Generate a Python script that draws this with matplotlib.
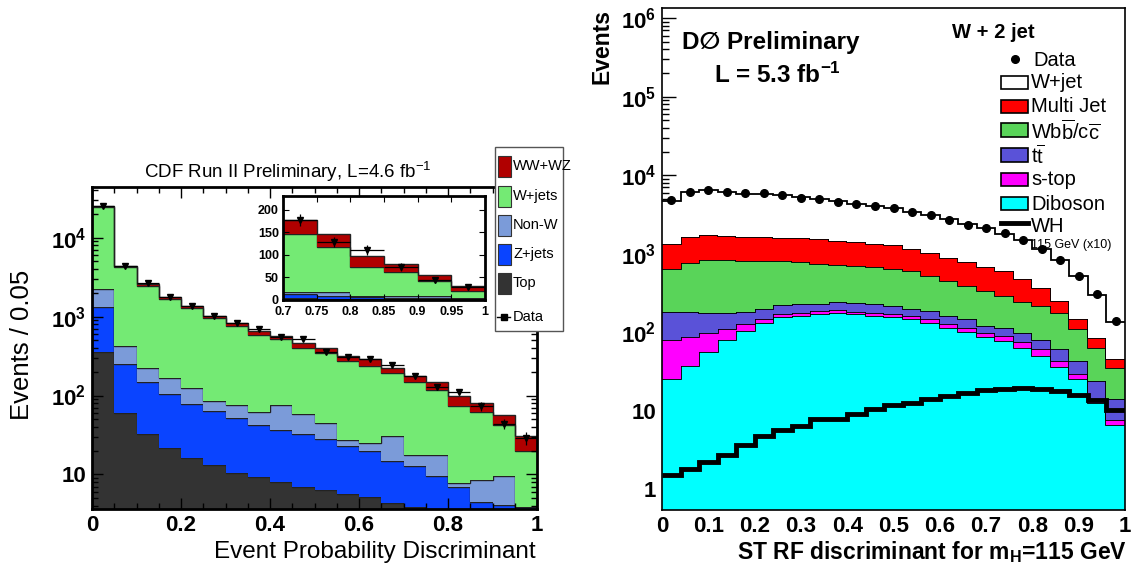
import numpy as np
import matplotlib
matplotlib.use("Agg")
import matplotlib.pyplot as plt
from matplotlib.patches import Rectangle
from matplotlib.lines import Line2D
from matplotlib.ticker import FixedLocator, LogLocator, NullFormatter, MultipleLocator

plt.rcParams['font.family'] = ['Liberation Sans', 'DejaVu Sans']
plt.rcParams['mathtext.fontset'] = 'custom'
plt.rcParams['mathtext.rm'] = 'Liberation Sans'
plt.rcParams['mathtext.it'] = 'Liberation Sans:italic'
plt.rcParams['mathtext.bf'] = 'Liberation Sans:bold'

W, H = 1131, 569

# ---------------- CDF (left panel), 20 bins of 0.05 ----------------
cdf_edges = np.linspace(0, 1, 21)
cdf_top = [361, 59.7, 32.4, 21.5, 16.1, 13.3, 10.4, 9.25, 8.0, 7.0,
           6.4, 5.6, 5.1, 4.3, 3.9, 3.3, 3.0, 2.7, 2.4, 2.0]
cdf_zjets = [979, 190, 116, 82.5, 61.5, 50.7, 41.2, 33.4, 28.7, 25.7,
             21.9, 17.0, 14.4, 10.3, 8.7, 6.1, 4.0, 1.8, 1.7, 1.9]
cdf_nonw = [900, 180, 78, 65, 46.4, 20, 23.1, 18.9, 38, 25.9,
            16.4, 4.3, 5.4, 15.7, 5.0, 8.2, 0.8, 3.9, 5.5, 0]
cdf_wjets = [22460, 3870, 2244, 1501, 1176, 869, 695, 524, 442, 346,
             299, 248, 215, 162, 129, 100, 66, 54, 33, 16]
cdf_wwwz = [500, 80, 120, 120, 77, 77, 70, 79, 58, 64,
            53, 46, 48, 30, 32, 29, 24, 18, 14, 11]
cdf_data = [25400, 4380, 2640, 1770, 1370, 1030, 820, 690, 555, 517,
            360, 307, 292, 244, 177, 128, 111, 73, 44, 29]
cdf_names = ['Top', 'Z+jets', 'Non-W', 'W+jets', 'WW+WZ']
cdf_colors = ['#333333', '#0a44ff', '#7b9bd9', '#74ea74', '#b00000']

# ---------------- D0 (right panel), 25 bins of 0.04 ----------------
d0_edges = np.linspace(0, 1, 26)
d0_diboson = [25, 37, 55, 79, 104, 130, 155, 160, 168, 176, 168, 160, 157,
              145, 131, 113, 100, 87, 77, 63, 49, 36, 25, 12.5, 6.6]
d0_stop = [55, 50, 43, 32, 24, 18, 16, 13, 17, 15, 14, 13, 13,
           15, 14, 15, 13, 11, 12, 11, 11, 7, 4, 1.3, 1.05]
d0_ttbar = [100, 93, 78, 65, 54, 50, 50, 53, 45, 51, 50, 53, 44,
            35, 40, 34, 32, 23, 24, 24, 20, 18.5, 13.7, 9.8, 6.2]
d0_wbb = [464, 587, 654, 649, 628, 607, 574, 550, 513, 474, 458, 440, 429,
          402, 335, 287, 240, 212, 175, 143, 134, 112, 65.5, 39.4, 21.2]
d0_multijet = [671, 883, 900, 855, 820, 805, 805, 785, 775, 745, 710, 675, 637,
               560, 490, 440, 397, 349, 312, 239, 154, 75, 37, 22, 10]
d0_wjet = [3435, 4400, 4670, 4420, 4190, 4190, 3940, 3640, 3430, 3160, 2900, 2710,
           2500, 2260, 2070, 1840, 1568, 1418, 1200, 1010, 772, 572, 370, 215, 91]
d0_data = [4800, 6120, 6440, 6120, 5840, 5840, 5560, 5190, 4940, 4610, 4310, 4060,
           3790, 3440, 3085, 2715, 2345, 2105, 1815, 1480, 1135, 828, 518, 302, 138]
d0_wh = [1.52, 1.80, 2.24, 2.73, 3.67, 4.69, 5.6, 6.3, 7.8, 7.8, 9.1, 10.6, 11.7,
         12.5, 14.1, 15.5, 16.7, 18.1, 18.9, 19.5, 18.9, 17.6, 16.0, 13.8, 10.3]
d0_names = ['Diboson', 's-top', r't$\overline{\rm t}$', r'Wb$\overline{\rm b}$/c$\overline{\rm c}$',
            'Multi Jet', 'W+jet']
d0_colors = ['#00ffff', '#ff00ff', '#5a52d8', '#59d459', '#ff0000', '#ffffff']


def fx(x):
    return x / W


def fy(y):
    return 1 - y / H


def draw_stack(ax, edges, comps, colors, lw, ec, base=1e-2):
    bottom = np.full(len(edges) - 1, base)
    for vals, col in zip(comps, colors):
        upper = bottom + np.asarray(vals, dtype=float)
        ax.stairs(upper, edges, baseline=bottom, fill=True, color=col, lw=0)
        ax.stairs(upper, edges, baseline=None, color=ec, lw=lw)
        bottom = upper
    return bottom


fig = plt.figure(figsize=(W / 100, H / 100), dpi=100)

# ================= left: CDF =================
ax1 = fig.add_axes([fx(92), fy(509), 445 / W, 322 / H])
cdf_comps = [cdf_top, cdf_zjets, cdf_nonw, cdf_wjets, cdf_wwwz]
draw_stack(ax1, cdf_edges, cdf_comps, cdf_colors, 1.0, '#222222')
cdf_cent = 0.5 * (cdf_edges[1:] + cdf_edges[:-1])
ax1.errorbar(cdf_cent, cdf_data, xerr=0.025, yerr=np.sqrt(cdf_data), fmt='v',
             color='black', ms=4, elinewidth=0.9, capsize=0)
ax1.set_yscale('log')
ax1.set_xlim(0, 1)
ax1.set_ylim(3.64, 4.4e4)
ax1.xaxis.set_major_locator(FixedLocator([0, 0.2, 0.4, 0.6, 0.8, 1.0]))
ax1.xaxis.set_minor_locator(MultipleLocator(0.05))
ax1.set_xticklabels(['0', '0.2', '0.4', '0.6', '0.8', '1'], fontsize=16, fontweight='bold')
ax1.yaxis.set_major_locator(FixedLocator([10, 100, 1000, 10000]))
ax1.yaxis.set_minor_locator(LogLocator(subs=np.arange(2, 10)))
ax1.yaxis.set_minor_formatter(NullFormatter())
ax1.set_yticklabels(['10', r'$\mathbf{10^{2}}$', r'$\mathbf{10^{3}}$', r'$\mathbf{10^{4}}$'],
                    fontsize=16, fontweight='bold')
ax1.tick_params(which='both', direction='in', top=True, right=True, width=1)
ax1.tick_params(which='major', length=8, pad=4)
ax1.tick_params(which='minor', length=4)
for s in ax1.spines.values():
    s.set_linewidth(2)

fig.text(fx(288), fy(172), r'CDF Run II Preliminary, L=4.6 fb$^{-1}$', ha='center', va='center',
         fontsize=13.5)
fig.text(fx(22), fy(345), 'Events / 0.05', rotation=90, ha='center', va='center', fontsize=18.5)
fig.text(fx(536), fy(552), 'Event Probability Discriminant', ha='right', va='center', fontsize=17.5)

# inset
ax2 = fig.add_axes([fx(283), fy(300), 202 / W, 104 / H])
sl = slice(14, 20)
draw_stack(ax2, cdf_edges[14:], [np.asarray(c)[sl] for c in cdf_comps], cdf_colors, 1.0, '#222222',
           base=0)
ax2.errorbar(cdf_cent[sl], np.asarray(cdf_data)[sl], xerr=0.025,
             yerr=np.sqrt(np.asarray(cdf_data)[sl]), fmt='v', color='black', ms=4,
             elinewidth=0.9, capsize=0)
ax2.set_xlim(0.7, 1)
ax2.set_ylim(0, 231)
ax2.xaxis.set_major_locator(FixedLocator([0.7, 0.75, 0.8, 0.85, 0.9, 0.95, 1.0]))
ax2.set_xticklabels(['0.7', '0.75', '0.8', '0.85', '0.9', '0.95', '1'], fontsize=9, fontweight='bold')
ax2.yaxis.set_major_locator(FixedLocator([0, 50, 100, 150, 200]))
ax2.set_yticklabels(['0', '50', '100', '150', '200'], fontsize=9, fontweight='bold')
ax2.tick_params(which='both', direction='in', top=True, right=True, length=4)
ax2.tick_params(axis='x', pad=4)
ax2.tick_params(axis='y', pad=3)
for s in ax2.spines.values():
    s.set_linewidth(2)

# left legend
leg = Rectangle((fx(495), fy(331)), 68 / W, 184 / H, transform=fig.transFigure,
                facecolor='white', edgecolor='#555555', lw=1.0, zorder=5)
fig.add_artist(leg)
leg_rows = [('WW+WZ', cdf_colors[4], 166), ('W+jets', cdf_colors[3], 196),
            ('Non-W', cdf_colors[2], 225), ('Z+jets', cdf_colors[1], 254),
            ('Top', cdf_colors[0], 283)]
for lab, col, yc in leg_rows:
    fig.add_artist(Rectangle((fx(498), fy(yc + 10.5)), 13 / W, 21 / H, transform=fig.transFigure,
                             facecolor=col, edgecolor='#333333', lw=0.8, zorder=6))
    fig.text(fx(513), fy(yc), lab, ha='left', va='center', fontsize=10.5, zorder=7)
fig.add_artist(Line2D([fx(497), fx(510)], [fy(317), fy(317)], color='black', lw=1,
                      transform=fig.transFigure, zorder=6))
fig.add_artist(Line2D([fx(503.5)], [fy(317)], color='black', marker='s', ms=4,
                      transform=fig.transFigure, zorder=7))
fig.text(fx(513), fy(317), 'Data', ha='left', va='center', fontsize=10.5, zorder=7)

# ================= right: D0 =================
ax3 = fig.add_axes([fx(662), fy(510), 463 / W, 502 / H])
ax3.set_axisbelow(True)
d0_comps = [d0_diboson, d0_stop, d0_ttbar, d0_wbb, d0_multijet, d0_wjet]
draw_stack(ax3, d0_edges, d0_comps, d0_colors, 1.3, 'black', base=1e-2)
ax3.stairs(d0_wh, d0_edges, baseline=None, color='black', lw=3.5)
d0_cent = 0.5 * (d0_edges[1:] + d0_edges[:-1])
ax3.errorbar(d0_cent, d0_data, yerr=np.sqrt(d0_data), fmt='o', color='black', ms=5.5,
             elinewidth=1, capsize=0, zorder=5)
ax3.set_yscale('log')
ax3.set_xlim(0, 1)
ax3.set_ylim(0.54, 1.35e6)
ax3.xaxis.set_major_locator(FixedLocator(np.linspace(0, 1, 11)))
ax3.set_xticklabels(['0', '0.1', '0.2', '0.3', '0.4', '0.5', '0.6', '0.7', '0.8', '0.9', '1'],
                    fontsize=16, fontweight='bold')
ax3.yaxis.set_major_locator(FixedLocator([1, 10, 1e2, 1e3, 1e4, 1e5, 1e6]))
ax3.yaxis.set_minor_locator(LogLocator(subs=np.arange(2, 10)))
ax3.yaxis.set_minor_formatter(NullFormatter())
ax3.set_yticklabels(['1', '10', r'$\mathbf{10^{2}}$', r'$\mathbf{10^{3}}$', r'$\mathbf{10^{4}}$',
                     r'$\mathbf{10^{5}}$', r'$\mathbf{10^{6}}$'], fontsize=16, fontweight='bold')
ax3.tick_params(axis='y', which='both', direction='in', width=1)
ax3.tick_params(axis='y', which='major', length=10, pad=4)
ax3.tick_params(axis='y', which='minor', length=5)
ax3.tick_params(axis='x', length=0, pad=4)
for s in ax3.spines.values():
    s.set_linewidth(1.2)
    s.set_zorder(6)

fig.text(fx(602), fy(47), 'Events', rotation=90, ha='center', va='center', fontsize=16.5,
         fontweight='bold')
fig.text(fx(1127), fy(559), r'ST RF discriminant for m$_\mathbf{H}$=115 GeV', ha='right',
         va='baseline', fontsize=16.5, fontweight='bold')
fig.text(fx(682), fy(43), 'D\u2205 Preliminary', ha='left', va='center', fontsize=17.5,
         fontweight='bold')
fig.text(fx(714), fy(75), r'L = 5.3 fb$^\mathbf{-1}$', ha='left', va='center', fontsize=17.5,
         fontweight='bold')
fig.text(fx(952), fy(33), 'W + 2 jet', ha='left', va='center', fontsize=14.5, fontweight='bold')

# right legend
fig.add_artist(Line2D([fx(1015)], [fy(59)], marker='o', ms=5.5, color='black',
                      transform=fig.transFigure))
fig.text(fx(1033), fy(60), 'Data', ha='left', va='center', fontsize=14.5)
rows = [(d0_names[5], d0_colors[5], 82), (d0_names[4], d0_colors[4], 106),
        (d0_names[3], d0_colors[3], 130), (d0_names[2], d0_colors[2], 155),
        (d0_names[1], d0_colors[1], 179), (d0_names[0], d0_colors[0], 203)]
for lab, col, yc in rows:
    fig.add_artist(Rectangle((fx(1001), fy(yc + 6.5)), 27 / W, 13 / H, transform=fig.transFigure,
                             facecolor=col, edgecolor='black', lw=1.2))
    fig.text(fx(1031), fy(yc + 1), lab, ha='left', va='center', fontsize=14.5)
fig.add_artist(Line2D([fx(1001), fx(1028)], [fy(223), fy(223)], color='black', lw=3.5,
                      transform=fig.transFigure))
fig.text(fx(1031), fy(226), 'WH', ha='left', va='center', fontsize=14.5)
fig.text(fx(1031), fy(245), '115 GeV (x10)', ha='left', va='center', fontsize=9)

fig.savefig('out.png', dpi=100)
